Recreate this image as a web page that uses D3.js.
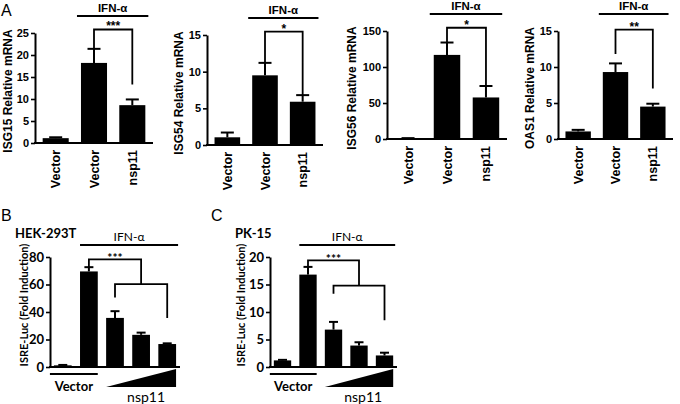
<!DOCTYPE html>
<html><head><meta charset="utf-8">
<script src="https://cdn.jsdelivr.net/npm/d3@7/dist/d3.min.js"></script>
<style>body{margin:0;background:#fff}svg{display:block}</style>
</head><body>
<svg id="chart" width="680" height="404"></svg>
<script>
// ---------- DATA ----------
const aGenes = ["ISG15", "ISG54", "ISG56", "OAS1"];
const aCategories = ["Vector", "Vector", "nsp11"];
const aMeans = [[1.1, 18.2, 8.6], [1.05, 9.5, 5.9], [1.0, 116.8, 57.7], [1.05, 9.3, 4.5]];
const aErrTops = [[1.3, 21.4, 9.9], [1.7, 11.2, 6.8], [1.2, 134, 73.6], [1.27, 10.5, 4.9]];
const aTicks = [[0, 5, 10, 15, 20, 25], [0, 5, 10, 15], [0, 50, 100, 150], [0, 5, 10, 15]];
const aStars = ["***", "*", "*", "**"];
const aBracketTop = [25.8, 15.45, 154.5, 15.2];
const aBracketLegs = [[21.4, 13.3], [11.2, 6.8], [134, 73.6], [11.8, 7.0]];

const bcGroups = ["Vector", "IFN", "nsp11-1", "nsp11-2", "nsp11-3"];
const hekMeans = [1.2, 69.5, 35.7, 23.4, 16.7];
const hekErrTops = [1.5, 72.6, 40.6, 25.0, 17.2];
const hekTicks = [0, 20, 40, 60, 80];
const hekBracket = [78.3, 60.3, 50.5, 35.7]; // top, middle, left leg, right leg
const pkMeans = [1.2, 16.8, 6.8, 3.9, 2.1];
const pkErrTops = [1.3, 18.2, 8.2, 4.5, 2.6];
const pkTicks = [0, 5, 10, 15, 20];
const pkBracket = [19.4, 14.8, 13.3, 8.5];

// ---------- DRAW ----------
const svg = d3.select("#chart");
const fA = "'Liberation Sans', Arial, sans-serif";
const fB = "Lato, 'Open Sans', sans-serif";

svg.append("text").attr("x", 1).attr("y", 16).attr("font-family", fA).attr("font-size", 16).text("A");
svg.append("text").attr("x", 1).attr("y", 221).attr("font-family", fA).attr("font-size", 16).text("B");
svg.append("text").attr("x", 211).attr("y", 221).attr("font-family", fA).attr("font-size", 16).text("C");

const aLayout = [
  {x0: 35, x1: 153, top: 33, bottom: 143, labelX: 8},
  {x0: 207, x1: 323, top: 35, bottom: 145, labelX: 179},
  {x0: 387, x1: 507, top: 31, bottom: 139, labelX: 352},
  {x0: 558, x1: 673, top: 31, bottom: 139, labelX: 530}
];

function yAxis(g, y, ticks, font, size) {
  g.call(d3.axisLeft(y).tickValues(ticks).tickSize(4).tickSizeOuter(0).tickPadding(2));
  g.select(".domain").attr("stroke", "#000").attr("stroke-width", 2);
  g.selectAll(".tick line").attr("stroke", "#000").attr("stroke-width", 1.6);
  g.selectAll(".tick text").attr("font-family", font).attr("font-size", size).attr("font-weight", "bold").attr("fill", "#000");
}

aGenes.forEach((gene, i) => {
  const L = aLayout[i];
  const ticks = aTicks[i];
  const y = d3.scaleLinear().domain([0, d3.max(ticks)]).range([L.bottom, L.top]);
  const x = d3.scaleBand().domain(d3.range(3)).range([L.x0, L.x1]).paddingInner(0.32).paddingOuter(0.2);
  const g = svg.append("g");
  g.selectAll("rect").data(aMeans[i]).join("rect")
    .attr("x", (d, j) => x(j)).attr("width", x.bandwidth())
    .attr("y", d => y(d)).attr("height", d => y(0) - y(d)).attr("fill", "#000");
  aErrTops[i].forEach((e, j) => {
    const cx = x(j) + x.bandwidth() / 2;
    g.append("line").attr("x1", cx).attr("x2", cx).attr("y1", y(aMeans[i][j])).attr("y2", y(e)).attr("stroke", "#000").attr("stroke-width", 2);
    g.append("line").attr("x1", cx - 6.5).attr("x2", cx + 6.5).attr("y1", y(e)).attr("y2", y(e)).attr("stroke", "#000").attr("stroke-width", 2);
  });
  yAxis(g.append("g").attr("transform", `translate(${L.x0},0)`), y, ticks, fA, 11);
  g.append("line").attr("x1", L.x0 - 1).attr("x2", L.x1).attr("y1", y(0)).attr("y2", y(0)).attr("stroke", "#000").attr("stroke-width", 2);
  aCategories.forEach((c, j) => {
    const cx = x(j) + x.bandwidth() / 2;
    g.append("text").attr("transform", `translate(${cx},${y(0) + 7}) rotate(-90)`)
      .attr("text-anchor", "end").attr("dy", "0.36em")
      .attr("font-family", fA).attr("font-size", 12.5).attr("font-weight", "bold").text(c);
  });
  g.append("text").attr("transform", `translate(${L.labelX},${(L.top + L.bottom) / 2 + 3}) rotate(-90)`)
    .attr("text-anchor", "middle").attr("dy", "0.36em")
    .attr("font-family", fA).attr("font-size", 12).attr("font-weight", "bold").text(gene + " Relative mRNA");
  const ly = L.top - 17;
  const lx1 = x(1) - 4, lx2 = x(2) + x.bandwidth() + 3;
  g.append("line").attr("x1", lx1).attr("x2", lx2).attr("y1", ly).attr("y2", ly).attr("stroke", "#000").attr("stroke-width", 2);
  g.append("text").attr("x", (lx1 + lx2) / 2).attr("y", ly - 4).attr("text-anchor", "middle")
    .attr("font-family", fA).attr("font-size", 11.5).attr("font-weight", "bold").text("IFN-α");
  const c1 = x(1) + x.bandwidth() / 2, c2 = x(2) + x.bandwidth() / 2;
  const bt = y(aBracketTop[i]);
  g.append("path").attr("d", `M${c1},${y(aBracketLegs[i][0])}V${bt}H${c2}V${y(aBracketLegs[i][1])}`)
    .attr("fill", "none").attr("stroke", "#000").attr("stroke-width", 1.8);
  g.append("text").attr("x", (c1 + c2) / 2).attr("y", bt + 1).attr("text-anchor", "middle")
    .attr("font-family", fA).attr("font-size", 12).attr("font-weight", "bold").text(aStars[i]);
});

// ---------- Panels B / C ----------
const bcLayout = [
  {x0: 50, x1: 180, top: 257, bottom: 367, title: "HEK-293T", titleX: 15, labelX: 24},
  {x0: 270, x1: 397, top: 257, bottom: 367, title: "PK-15", titleX: 235, labelX: 241}
];
const bcMeans = [hekMeans, pkMeans];
const bcErr = [hekErrTops, pkErrTops];
const bcTicks = [hekTicks, pkTicks];
const bcBr = [hekBracket, pkBracket];

bcLayout.forEach((L, i) => {
  const ticks = bcTicks[i];
  const y = d3.scaleLinear().domain([0, d3.max(ticks)]).range([L.bottom, L.top]);
  const x = d3.scaleBand().domain(bcGroups).range([L.x0, L.x1]).paddingInner(0.32).paddingOuter(0.15);
  const cx = k => x(bcGroups[k]) + x.bandwidth() / 2;
  const g = svg.append("g");
  g.selectAll("rect").data(bcMeans[i]).join("rect")
    .attr("x", (d, j) => x(bcGroups[j])).attr("width", x.bandwidth())
    .attr("y", d => y(d)).attr("height", d => y(0) - y(d)).attr("fill", "#000");
  bcErr[i].forEach((e, j) => {
    const c = cx(j);
    g.append("line").attr("x1", c).attr("x2", c).attr("y1", y(bcMeans[i][j])).attr("y2", y(e)).attr("stroke", "#000").attr("stroke-width", 2);
    g.append("line").attr("x1", c - 4.5).attr("x2", c + 4.5).attr("y1", y(e)).attr("y2", y(e)).attr("stroke", "#000").attr("stroke-width", 2);
  });
  yAxis(g.append("g").attr("transform", `translate(${L.x0},0)`), y, ticks, fB, 13);
  g.append("line").attr("x1", L.x0 - 1).attr("x2", L.x1).attr("y1", y(0)).attr("y2", y(0)).attr("stroke", "#000").attr("stroke-width", 2);
  g.append("text").attr("x", L.titleX).attr("y", 238).attr("font-family", fB).attr("font-size", 13).attr("font-weight", "bold").text(L.title);
  g.append("text").attr("transform", `translate(${L.labelX},305) rotate(-90)`)
    .attr("text-anchor", "middle").attr("dy", "0.36em")
    .attr("font-family", fB).attr("font-size", 11).attr("font-weight", "bold").text("ISRE-Luc (Fold Induction)");
  const ly = 245;
  const lx1 = x(bcGroups[1]), lx2 = x(bcGroups[4]) + x.bandwidth() + 2;
  g.append("line").attr("x1", lx1).attr("x2", lx2).attr("y1", ly).attr("y2", ly).attr("stroke", "#000").attr("stroke-width", 2);
  g.append("text").attr("x", (lx1 + lx2) / 2).attr("y", ly - 4).attr("text-anchor", "middle")
    .attr("font-family", fB).attr("font-size", 12).text("IFN-α");
  const br = bcBr[i];
  const mid = (cx(2) + cx(4)) / 2;
  g.append("path").attr("d", `M${cx(1)},${y(bcErr[i][1])}V${y(br[0])}H${mid}V${y(br[1])}`)
    .attr("fill", "none").attr("stroke", "#000").attr("stroke-width", 1.8);
  g.append("path").attr("d", `M${cx(2)},${y(br[2])}V${y(br[1])}H${cx(4)}V${y(br[3])}`)
    .attr("fill", "none").attr("stroke", "#000").attr("stroke-width", 1.8);
  g.append("text").attr("x", (cx(1) + mid) / 2).attr("y", y(br[0]) + 3).attr("text-anchor", "middle")
    .attr("font-family", fB).attr("font-size", 12).attr("font-weight", "bold").text("***");
  const vy = L.bottom + 7;
  const vx1 = x(bcGroups[0]) - 4, vx2 = x(bcGroups[1]) + x.bandwidth();
  g.append("line").attr("x1", vx1).attr("x2", vx2).attr("y1", vy).attr("y2", vy).attr("stroke", "#000").attr("stroke-width", 2);
  g.append("text").attr("x", (vx1 + vx2) / 2).attr("y", 391).attr("text-anchor", "middle")
    .attr("font-family", fB).attr("font-size", 13).attr("font-weight", "bold").text("Vector");
  const tx1 = x(bcGroups[2]), tx2 = x(bcGroups[4]) + x.bandwidth();
  g.append("path").attr("d", `M${tx1},387L${tx2},369V387Z`).attr("fill", "#000");
  g.append("text").attr("x", tx2 - 30).attr("y", 402).attr("text-anchor", "middle")
    .attr("font-family", fB).attr("font-size", 14).text("nsp11");
});
</script>
</body></html>
